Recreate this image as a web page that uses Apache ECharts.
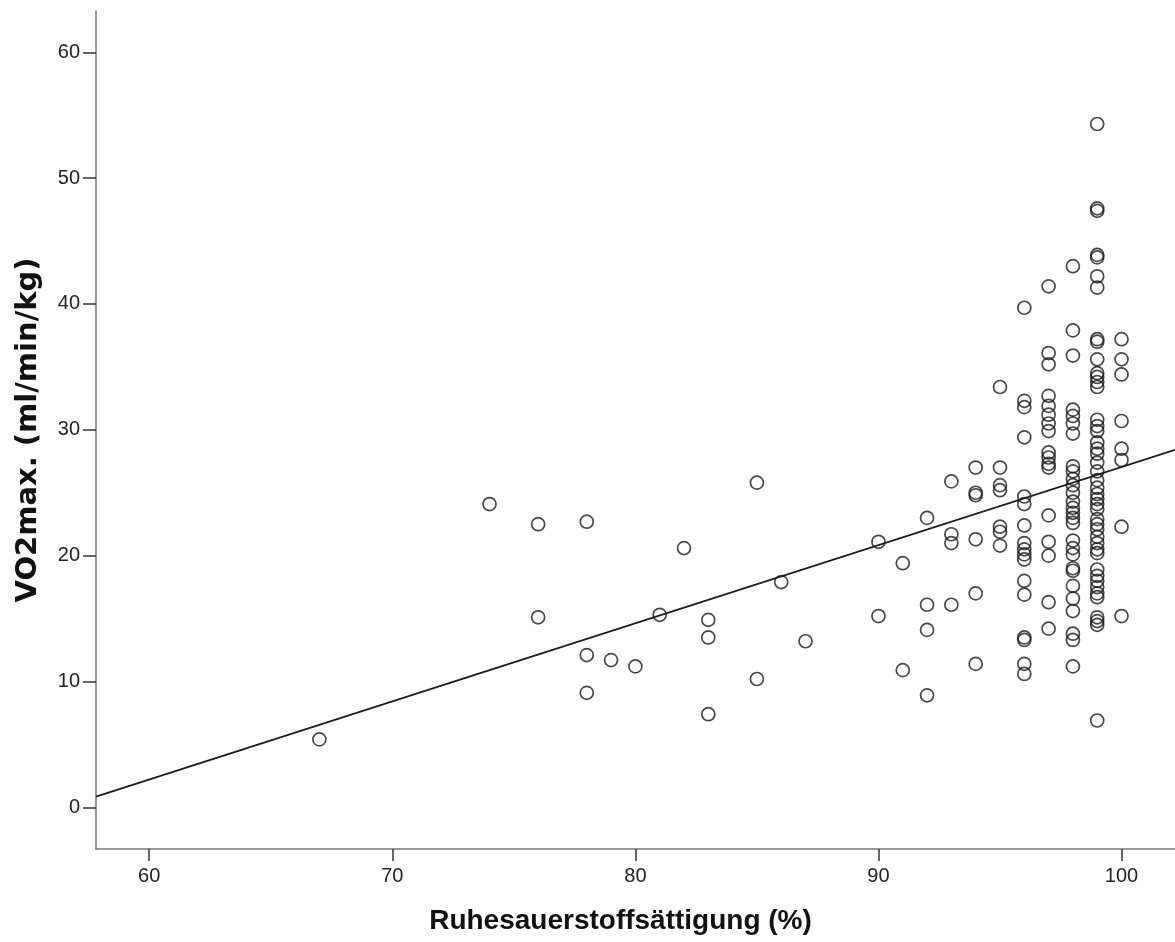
<!DOCTYPE html>
<html>
<head>
<meta charset="utf-8">
<script src="https://cdn.jsdelivr.net/npm/echarts@6/dist/echarts.min.js"></script>
<style>
html,body{margin:0;padding:0;background:#fff;}
#chart{width:1175px;height:942px;}
</style>
</head>
<body>
<div id="chart"></div>
<script>
// Saturation columns (x) and VO2max values (y)
const satValues = [67, 74, 76, 78, 79, 80, 81, 82, 83, 85, 86, 87, 90, 91, 92, 93, 94, 95, 96, 97, 98, 99, 100];
const vo2ByColumn = [
  [5.4],
  [24.1],
  [22.5, 15.1],
  [22.7, 12.1, 9.1],
  [11.7],
  [11.2],
  [15.3],
  [20.6],
  [14.9, 13.5, 7.4],
  [25.8, 10.2],
  [17.9],
  [13.2],
  [21.1, 15.2],
  [19.4, 10.9],
  [23.0, 16.1, 14.1, 8.9],
  [25.9, 21.7, 21.0, 16.1],
  [27.0, 25.0, 24.8, 21.3, 17.0, 11.4],
  [33.4, 27.0, 25.6, 25.2, 22.3, 21.9, 20.8],
  [39.7, 32.3, 31.8, 29.4, 24.7, 24.1, 22.4, 21.0, 20.5, 20.1, 19.7, 18.0, 16.9, 13.5, 13.3, 11.4, 10.6],
  [41.4, 36.1, 35.2, 32.7, 31.9, 31.2, 30.5, 29.9, 28.2, 27.8, 27.3, 27.0, 23.2, 21.1, 20.0, 16.3, 14.2],
  [43.0, 37.9, 35.9, 31.6, 31.1, 30.5, 29.7, 27.1, 26.7, 26.1, 25.6, 25.0, 24.3, 23.8, 23.4, 23.0, 22.6, 21.2, 20.6, 20.1, 19.0, 18.8, 17.6, 16.6, 15.6, 13.8, 13.3, 11.2],
  [54.3, 47.6, 47.4, 43.9, 43.7, 42.2, 41.3, 37.2, 37.0, 35.6, 34.5, 34.2, 33.8, 33.4, 30.8, 30.3, 29.9, 29.0, 28.5, 28.1, 27.4, 26.7, 26.0, 25.4, 24.9, 24.5, 24.1, 23.7, 22.9, 22.5, 22.1, 21.5, 21.0, 20.5, 20.2, 18.9, 18.4, 18.0, 17.5, 17.0, 16.7, 15.1, 14.8, 14.5, 6.9],
  [37.2, 35.6, 34.4, 30.7, 28.5, 27.6, 22.3, 15.2]
];
const xTicks = [60, 70, 80, 90, 100];
const yTicks = [0, 10, 20, 30, 40, 50, 60];
// Fit line: y = intercept + slope * x
const fitLine = { intercept: -35.05, slope: 0.621 };
const xRange = [57.81, 102.2];
const yRange = [-3.31, 63.28];

const points = [];
satValues.forEach((s, i) => vo2ByColumn[i].forEach(v => points.push([s, v])));
const fitData = xRange.map(x => [x, fitLine.intercept + fitLine.slope * x]);

const font = '"Liberation Sans", Arial, sans-serif';
const chart = echarts.init(document.getElementById('chart'), null, {renderer: 'canvas'});
chart.setOption({
  animation: false,
  backgroundColor: '#fff',
  grid: {left: 96, right: 0, top: 11, bottom: 93, containLabel: false},
  xAxis: {
    type: 'value', min: xRange[0], max: xRange[1],
    name: 'Ruhesauerstoffsättigung (%)', nameLocation: 'middle', nameGap: 58,
    nameTextStyle: {fontFamily: font, fontSize: 28, fontWeight: 'bold', color: '#111', padding: [0, 30, 0, 0]},
    axisLine: {show: true, onZero: false, lineStyle: {color: '#777', width: 1.5}},
    axisTick: {show: true, customValues: xTicks, length: 12, lineStyle: {color: '#333', width: 1.5}},
    axisLabel: {customValues: xTicks, fontFamily: font, fontSize: 20, color: '#222', margin: 17},
    splitLine: {show: false}
  },
  yAxis: {
    type: 'value', min: yRange[0], max: yRange[1],
    name: 'VO2max. (ml/min/kg)', nameLocation: 'middle', nameGap: 53,
    nameTextStyle: {fontFamily: '"DejaVu Sans", sans-serif', fontSize: 29, fontWeight: 'bold', color: '#111'},
    axisLine: {show: true, onZero: false, lineStyle: {color: '#777', width: 1.5}},
    axisTick: {show: true, customValues: yTicks, length: 13, lineStyle: {color: '#333', width: 1.5}},
    axisLabel: {customValues: yTicks, fontFamily: font, fontSize: 20, color: '#222', margin: 16},
    splitLine: {show: false}
  },
  series: [
    {
      type: 'scatter', data: points, symbol: 'circle', symbolSize: 13,
      itemStyle: {color: 'rgba(0,0,0,0)', borderColor: '#1a1a1a', borderWidth: 1.7},
      z: 2
    },
    {
      type: 'line', data: fitData, symbol: 'none', clip: true,
      lineStyle: {color: '#1a1a1a', width: 1.7}, z: 3
    }
  ]
});
</script>
</body>
</html>
